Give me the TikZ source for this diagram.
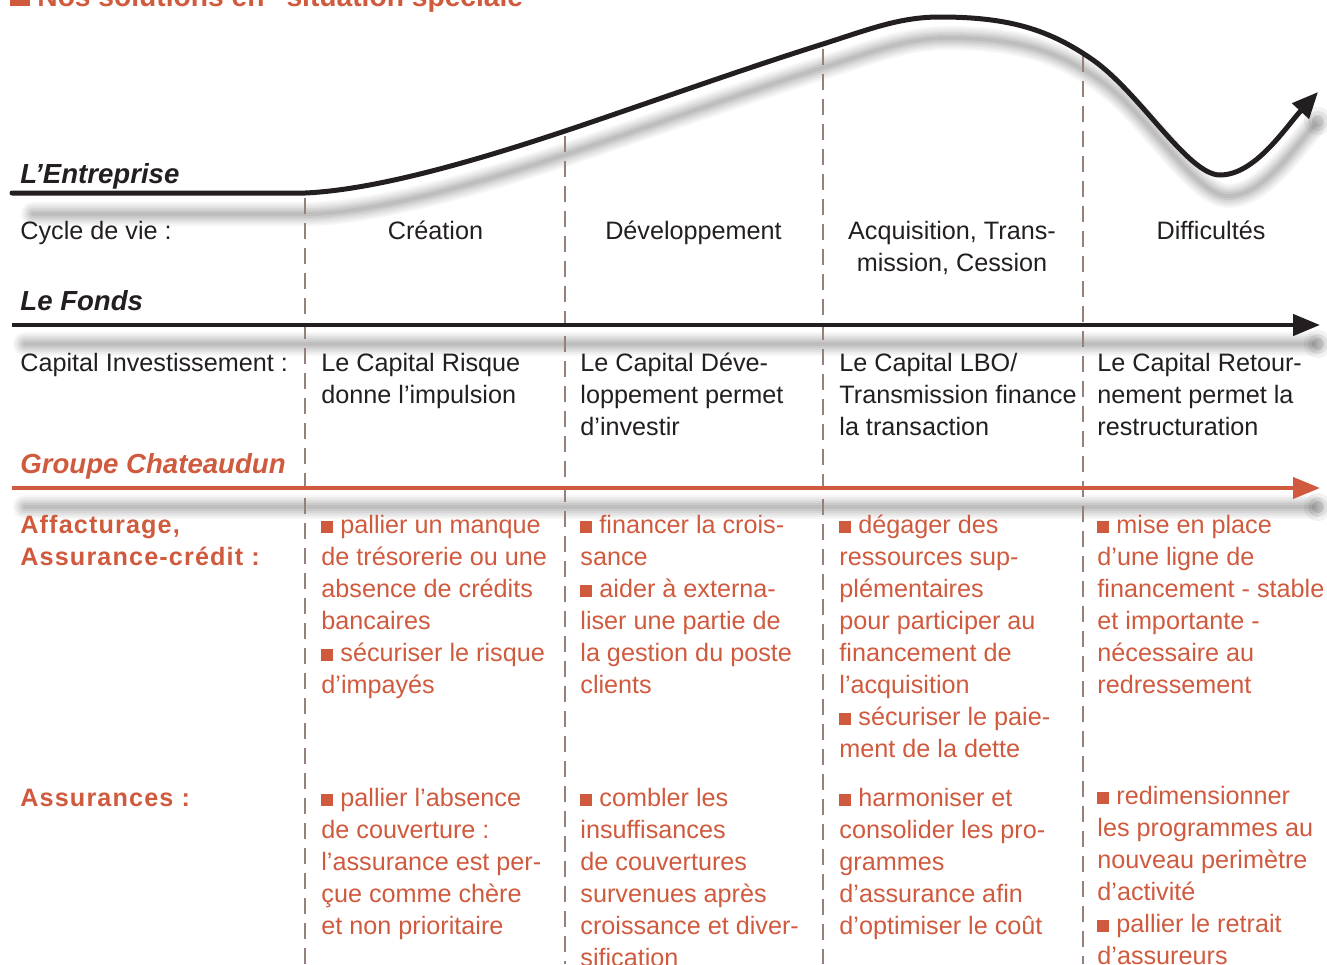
\documentclass[tikz,border=0pt]{standalone}
\usepackage{fontspec}
\setmainfont{Liberation Sans}
\newfontfamily\spacedbold[LetterSpace=4.5]{Liberation Sans}
\usetikzlibrary{arrows.meta}
\definecolor{orangeC}{RGB}{207,90,62}
\definecolor{ink}{RGB}{35,31,32}
\definecolor{dashC}{RGB}{150,128,122}
\newcommand{\blk}[1]{\parbox[t]{160pt}{\fontsize{12.6pt}{16pt}\selectfont\raggedright\hyphenpenalty=10000\leavevmode #1}}
\newcommand{\cblk}[1]{\parbox[t]{200pt}{\fontsize{12.6pt}{16pt}\selectfont\centering\leavevmode #1}}
\newcommand{\bul}{{\color{orangeC}\rule{6pt}{6pt}}\ }
\newcommand{\softshadow}[1]{%
  \foreach \w/\o in {12pt/0.035,10pt/0.04,8pt/0.045,6pt/0.05,4pt/0.055,2pt/0.06}{%
    \draw[line width=\w, black, draw opacity=\o, line cap=round] #1;}}
\begin{document}
\begin{tikzpicture}[x=0.5pt,y=-0.5pt,
  txt/.style={anchor=base west, inner sep=0, text=ink, font=\fontsize{12.6pt}{16pt}\selectfont},
  otxt/.style={anchor=base west, inner sep=0, text=orangeC, font=\fontsize{12.6pt}{16pt}\selectfont},
  ctxt/.style={anchor=base, inner sep=0, text=ink, font=\fontsize{12.6pt}{16pt}\selectfont},
  head/.style={anchor=base west, inner sep=0, font=\fontsize{13.8pt}{16pt}\selectfont\bfseries\itshape},
  slabel/.style={anchor=base west, inner sep=0, text=orangeC, font=\fontsize{12.6pt}{16pt}\selectfont\spacedbold\bfseries},
  divider/.style={draw=dashC, line width=0.75pt, dash pattern=on 8pt off 4.5pt},
  curveline/.style={draw=ink, line width=2.5pt, line cap=round, -{Triangle[length=13pt,width=11pt]}},
  fondsline/.style={draw=ink, line width=2.25pt, -{Triangle[length=13.5pt,width=10.5pt]}},
  groupline/.style={draw=orangeC, line width=2pt, -{Triangle[length=13.5pt,width=10.5pt]}}]
\useasboundingbox (0,0) rectangle (1327,964);

% coordinates of the life-cycle curve
\coordinate (c0) at (12,193);
\coordinate (c1) at (305,193);
\coordinate (c2) at (565,131);
\coordinate (c3) at (823,44);
\coordinate (c4) at (940,17);
\coordinate (c5) at (1093,60);
\coordinate (c6) at (1220,175);
\coordinate (c7) at (1318,92);

% horizontal arrows coordinates
\coordinate (fL) at (12,325);
\coordinate (fR) at (1320,325);
\coordinate (gL) at (12,488);
\coordinate (gR) at (1320,488);

% shadows
\begin{scope}[shift={(8,21)}]
  \softshadow{(25,193) -- (305,193) .. controls (375,190) and (475,161) .. (565,131) .. controls (640,106) and (740,70) .. (823,44) .. controls (870,29) and (900,17) .. (940,17) .. controls (1010,17) and (1050,30) .. (1093,60) .. controls (1140,93) and (1188,175) .. (1220,175) .. controls (1255,175) and (1285,128) .. (1305,106)}
  \foreach \r/\o in {14/0.05,10/0.07,6/0.09}{\fill[black, opacity=\o] (1310,100) circle (\r);}
\end{scope}
\begin{scope}[shift={(0,19)}]
  \softshadow{(25,325) -- (1312,325)}
  \softshadow{(25,488) -- (1312,488)}
  \foreach \r/\o in {14/0.05,10/0.08,6/0.1}{\fill[black, opacity=\o] (1318,325) circle (\r); \fill[black, opacity=\o] (1318,488) circle (\r);}
\end{scope}

% dividers
\coordinate (d1t) at (305,198); \coordinate (d1b) at (305,964);
\coordinate (d2t) at (565,136); \coordinate (d2b) at (565,964);
\coordinate (d3t) at (823,49);  \coordinate (d3b) at (823,964);
\coordinate (d4t) at (1083,56); \coordinate (d4b) at (1083,964);
\draw[divider] (d1t) -- (d1b);
\draw[divider] (d2t) -- (d2b);
\draw[divider] (d3t) -- (d3b);
\draw[divider] (d4t) -- (d4b);

% main lines
\draw[curveline] (c0) -- (c1) .. controls (375,190) and (475,161) .. (c2) .. controls (640,106) and (740,70) .. (c3) .. controls (870,29) and (900,17) .. (c4) .. controls (1010,17) and (1050,30) .. (c5) .. controls (1140,93) and (1188,175) .. (c6) .. controls (1255,175) and (1285,128) .. (c7);
\draw[fondsline] (fL) -- (fR);
\draw[groupline] (gL) -- (gR);

% title (cut at the top)
\fill[orangeC] (10,6) rectangle (30,-20);
\node[anchor=base west, inner sep=0, text=orangeC, font=\fontsize{14.1pt}{16pt}\selectfont\bfseries] (title) at (37,6) {Nos solutions en “situation spéciale”};

% headings
\node[head, text=ink] (ent) at (20,183) {L’Entreprise};
\node[head, text=ink] (fonds) at (20,310) {Le Fonds};
\node[head, text=orangeC] (grp) at (20,473) {Groupe Chateaudun};

% life cycle row
\node[txt] (cyc) at (20,239) {Cycle de vie :};
\node[ctxt] (cre) at (435.5,239) {Création};
\node[ctxt] (dev) at (693.5,239) {Développement};
\node[ctxt] (acq) at (952,239) {\cblk{Acquisition, Trans-\\mission, Cession}};
\node[ctxt] (dif) at (1211,239) {Difficultés};

% capital investissement row
\node[txt] (capinv) at (20,371) {Capital Investissement :};
\node[txt] (cr) at (321,371) {\blk{Le Capital Risque\\donne l’impulsion}};
\node[txt] (cd) at (580,371) {\blk{Le Capital Déve-\\loppement permet\\d’investir}};
\node[txt] (clbo) at (839,371) {\blk{Le Capital LBO/\\Transmission finance\\la transaction}};
\node[txt] (cret) at (1097,371) {\blk{Le Capital Retour-\\nement permet la\\restructuration}};

% affacturage row
\node[slabel] (aff) at (20,533) {\parbox[t]{160pt}{\fontsize{12.6pt}{16pt}\selectfont\spacedbold\bfseries\leavevmode Affacturage,\\Assurance-crédit :}};
\node[otxt] (a1) at (321,533) {\blk{\bul pallier un manque\\de trésorerie ou une\\absence de crédits\\bancaires\\\bul sécuriser le risque\\d’impayés}};
\node[otxt] (a2) at (580,533) {\blk{\bul financer la crois-\\sance\\\bul aider à externa-\\liser une partie de\\la gestion du poste\\clients}};
\node[otxt] (a3) at (839,533) {\blk{\bul dégager des\\ressources sup-\\plémentaires\\pour participer au\\financement de\\l’acquisition\\\bul sécuriser le paie-\\ment de la dette}};
\node[otxt] (a4) at (1097,533) {\blk{\bul mise en place\\d’une ligne de\\financement - stable\\et importante -\\nécessaire au\\redressement}};

% assurances row
\node[slabel] (ass) at (20,806) {Assurances :};
\node[otxt] (s1) at (321,806) {\blk{\bul pallier l’absence\\de couverture :\\l’assurance est per-\\çue comme chère\\et non prioritaire}};
\node[otxt] (s2) at (580,806) {\blk{\bul combler les\\insuffisances\\de couvertures\\survenues après\\croissance et diver-\\sification}};
\node[otxt] (s3) at (839,806) {\blk{\bul harmoniser et\\consolider les pro-\\grammes\\d’assurance afin\\d’optimiser le coût}};
\node[otxt] (s4) at (1097,804) {\blk{\bul redimensionner\\les programmes au\\nouveau perimètre\\d’activité\\\bul pallier le retrait\\d’assureurs}};
\end{tikzpicture}
\end{document}
